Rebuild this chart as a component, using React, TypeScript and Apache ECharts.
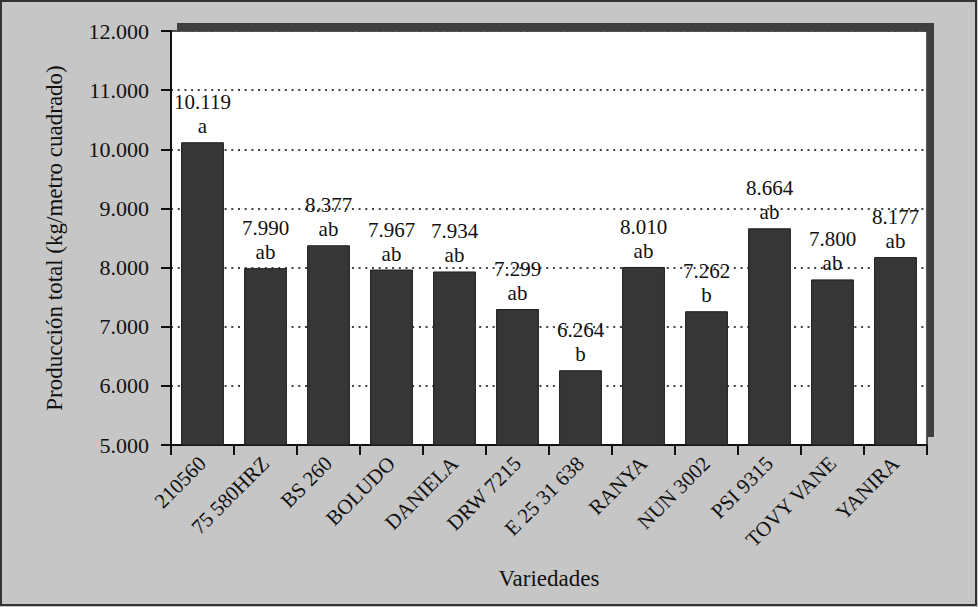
import React, { useEffect, useRef } from "react";
import * as echarts from "echarts";

const categories = ["210560", "75 580HRZ", "BS 260", "BOLUDO", "DANIELA", "DRW 7215", "E 25 31 638", "RANYA", "NUN 3002", "PSI 9315", "TOVY VANE", "YANIRA"];
const values = [10119, 7990, 8377, 7967, 7934, 7299, 6264, 8010, 7262, 8664, 7800, 8177];
const letters = ["a", "ab", "ab", "ab", "ab", "ab", "b", "ab", "b", "ab", "ab", "ab"];
const yTicks = { min: 5000, max: 12000, interval: 1000 };

const FONT = "Liberation Serif";

function fmt(v: number): string {
  const s = Math.round(v).toString();
  return s.replace(/\B(?=(\d{3})+(?!\d))/g, ".");
}

export default function App() {
  const ref = useRef<HTMLDivElement>(null);
  useEffect(() => {
    if (!ref.current) return;
    const chart = echarts.init(ref.current, null, { renderer: "svg" });
    chart.setOption({
      animation: false,
      backgroundColor: "#c6c6c6",
      textStyle: { fontFamily: FONT },
      grid: {
        left: 171,
        right: 51,
        top: 31,
        bottom: 162,
        show: true,
        backgroundColor: "#ffffff",
        borderWidth: 1.5,
        borderColor: "#222",
      },
      graphic: [
        { type: "rect", shape: { x: 177, y: 23, width: 757, height: 8 }, style: { fill: "#3f3f3f" } },
        { type: "rect", shape: { x: 927.5, y: 31, width: 6.5, height: 406 }, style: { fill: "#3f3f3f" } },
        { type: "rect", shape: { x: 1, y: 1, width: 975, height: 604 }, style: { fill: "none", stroke: "#333333", lineWidth: 2 } },
      ],
      xAxis: {
        type: "category",
        data: categories,
        name: "Variedades",
        nameLocation: "middle",
        nameGap: 122,
        nameTextStyle: { fontFamily: FONT, fontSize: 23, color: "#111" },
        axisLine: { lineStyle: { color: "#111", width: 2 } },
        axisTick: { show: true, length: 10, lineStyle: { color: "#111", width: 2 } },
        axisLabel: { rotate: 45, fontFamily: FONT, fontSize: 21, color: "#111", margin: 15, interval: 0 },
      },
      yAxis: {
        type: "value",
        min: yTicks.min,
        max: yTicks.max,
        interval: yTicks.interval,
        name: "Producción total (kg/metro cuadrado)",
        nameLocation: "middle",
        nameGap: 105,
        nameTextStyle: { fontFamily: FONT, fontSize: 23, color: "#111" },
        axisLine: { show: true, lineStyle: { color: "#111", width: 2 } },
        axisTick: { show: true, length: 10, lineStyle: { color: "#111", width: 2 } },
        axisLabel: { fontFamily: FONT, fontSize: 22, color: "#111", margin: 22, formatter: (v: number) => fmt(v) },
        splitLine: { show: true, lineStyle: { color: "#444", width: 1.8, type: [2, 4.7] } },
      },
      series: [
        {
          type: "bar",
          data: values,
          barCategoryGap: "32%",
          itemStyle: { color: "#363636", borderColor: "#1e1e1e", borderWidth: 1 },
          label: {
            show: true,
            position: "top",
            distance: 4,
            fontFamily: FONT,
            fontSize: 21,
            lineHeight: 24,
            color: "#111",
            formatter: (p: any) => `${fmt(p.value)}\n${letters[p.dataIndex]}`,
          },
        },
      ],
    });
    return () => chart.dispose();
  }, []);
  return <div ref={ref} style={{ position: "fixed", left: 0, top: 0, width: 978, height: 607 }} />;
}
